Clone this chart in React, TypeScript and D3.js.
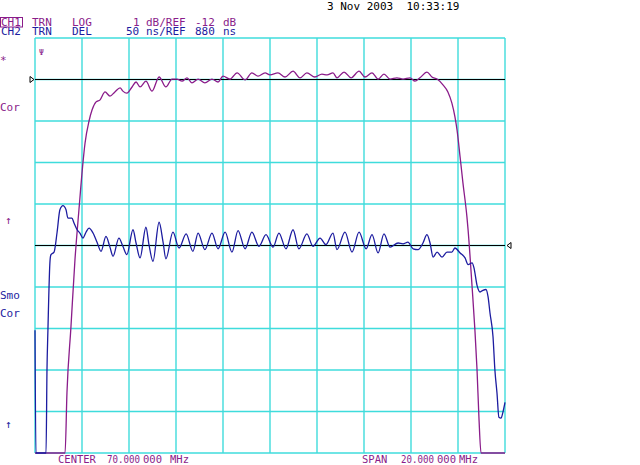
import React, { useEffect, useRef } from 'react';
import * as d3 from 'd3';

// sweep: CENTER 70 MHz, SPAN 20 MHz
const startMHz = 60;
const stopMHz = 80;

// CH1 transmission magnitude, 1 dB/div, ref -12 dB at division 9
const ch1Ref = -12;
const ch1PerDiv = 1;
const ch1RefPos = 9;
const ch1Trace: [number, number][] = [
  [60.0, -22], [61.23, -22], [61.28, -21.0], [61.36, -19.55], [61.53, -17.96], [61.7, -16.35],
  [61.87, -15.14], [62.04, -14.01], [62.13, -13.53], [62.3, -13.0], [62.43, -12.73], [62.6, -12.54],
  [62.77, -12.49], [62.98, -12.3], [63.19, -12.4], [63.4, -12.3], [63.62, -12.2], [63.74, -12.28],
  [63.91, -12.33], [64.13, -12.18], [64.3, -12.06], [64.47, -12.18], [64.72, -12.04], [64.98, -12.28],
  [65.28, -11.94], [65.57, -12.18], [65.83, -11.99], [66.04, -11.99], [66.26, -12.04], [66.47, -11.96],
  [66.68, -12.08], [66.94, -11.99], [67.23, -12.08], [67.53, -11.99], [67.79, -12.06], [68.0, -11.92],
  [68.3, -11.99], [68.6, -11.84], [68.94, -12.01], [69.23, -11.84], [69.49, -11.92], [69.79, -11.84],
  [70.0, -11.89], [70.34, -11.84], [70.64, -11.94], [70.98, -11.8], [71.28, -11.96], [71.57, -11.84],
  [71.91, -11.94], [72.21, -11.87], [72.43, -11.89], [72.68, -11.84], [72.85, -11.96], [73.15, -11.82],
  [73.45, -11.96], [73.79, -11.8], [74.04, -11.94], [74.34, -11.84], [74.6, -11.99], [74.85, -11.87],
  [75.11, -11.99], [75.4, -11.96], [75.66, -11.99], [75.96, -11.96], [76.17, -12.04], [76.38, -11.96],
  [76.68, -11.82], [76.89, -11.94], [77.11, -11.99], [77.36, -12.13], [77.57, -12.3], [77.74, -12.57],
  [77.87, -12.9], [77.96, -13.22], [78.09, -13.87], [78.21, -14.49], [78.38, -15.31], [78.43, -15.63],
  [78.6, -17.0], [78.72, -18.04], [78.81, -19.0], [78.89, -20.13], [78.98, -21.0], [79.02, -22],
  [80.0, -22],
];

// CH2 group delay, 50 ns/div, ref 880 ns at division 5
const ch2Ref = 880;
const ch2PerDiv = 50;
const ch2RefPos = 5;
const ch2Trace: [number, number][] = [
  [60.0, 778], [60.04, 600], [60.47, 600], [60.51, 730], [60.55, 778], [60.64, 862], [60.68, 869],
  [60.81, 872], [60.94, 896], [61.06, 923], [61.19, 928], [61.32, 923], [61.4, 913], [61.57, 913],
  [61.66, 907], [61.79, 899], [61.91, 895], [62.04, 889], [62.17, 896], [62.3, 901], [62.47, 895],
  [62.64, 884], [62.81, 873], [63.02, 891], [63.19, 878], [63.32, 867], [63.57, 889], [63.74, 879],
  [63.91, 869], [64.17, 899], [64.3, 883], [64.47, 865], [64.72, 902], [64.85, 881], [65.02, 861],
  [65.28, 908], [65.45, 884], [65.57, 864], [65.87, 896], [66.13, 877], [66.43, 894], [66.72, 873],
  [66.94, 895], [67.23, 875], [67.53, 895], [67.79, 876], [68.09, 896], [68.38, 872], [68.64, 898],
  [68.94, 876], [69.23, 896], [69.53, 879], [69.83, 893], [70.13, 878], [70.38, 895], [70.68, 876],
  [70.98, 899], [71.23, 876], [71.57, 894], [71.83, 879], [72.13, 889], [72.38, 881], [72.68, 895],
  [72.85, 875], [73.19, 896], [73.49, 872], [73.79, 896], [74.09, 876], [74.34, 893], [74.6, 871],
  [74.85, 894], [75.11, 878], [75.45, 883], [75.66, 882], [75.87, 884], [76.09, 876], [76.3, 875],
  [76.51, 883], [76.68, 893], [76.81, 883], [76.94, 866], [77.11, 872], [77.32, 866], [77.53, 872],
  [77.74, 872], [77.87, 877], [78.09, 871], [78.3, 865], [78.43, 857], [78.6, 859], [78.68, 853],
  [78.81, 832], [78.94, 824], [79.06, 826], [79.19, 827], [79.28, 818], [79.36, 799], [79.49, 770],
  [79.57, 730], [79.66, 702], [79.74, 673], [79.83, 672], [79.91, 679], [80.0, 691],
];

const ch1Header = [
  { text: 'CH1', x: 1 }, { text: 'TRN', x: 32 }, { text: 'LOG', x: 72 },
  { text: '1', x: 133 }, { text: 'dB/REF', x: 146 }, { text: '-12', x: 195 }, { text: 'dB', x: 223 },
];
const ch2Header = [
  { text: 'CH2', x: 1 }, { text: 'TRN', x: 32 }, { text: 'DEL', x: 72 },
  { text: '50', x: 126 }, { text: 'ns/REF', x: 146 }, { text: '880', x: 195 }, { text: 'ns', x: 223 },
];
const dateLabel = '3 Nov 2003  10:33:19';
const centerLabel = [
  { text: 'CENTER', x: 58 }, { text: '70.000', x: 107 }, { text: '000', x: 143 }, { text: 'MHz', x: 170 },
];
const spanLabel = [
  { text: 'SPAN', x: 362 }, { text: '20.000', x: 401 }, { text: '000', x: 437 }, { text: 'MHz', x: 459 },
];
const ch1Notes = [
  { text: '*', y: 64 }, { text: 'Cor', y: 111 }, { text: '↑', y: 224 },
];
const ch2Notes = [
  { text: 'Smo', y: 299 }, { text: 'Cor', y: 317 }, { text: '↑', y: 428 },
];

const W = 640;
const H = 465;
const PURPLE = '#8a1c8a';
const BLUE = '#1c1ca0';
const GRID = '#3fdcdc';
const FONT = 'DejaVu Sans Mono, monospace';

const App: React.FC = () => {
  const ref = useRef<SVGSVGElement>(null);

  useEffect(() => {
    if (!ref.current) return;
    const svg = d3.select(ref.current);
    svg.selectAll('*').remove();

    const left = 35, right = 505, top = 38, bottom = 453;
    const x = d3.scaleLinear().domain([startMHz, stopMHz]).range([left, right]);
    const y1 = d3
      .scaleLinear()
      .domain([ch1Ref - ch1RefPos * ch1PerDiv, ch1Ref + (10 - ch1RefPos) * ch1PerDiv])
      .range([bottom, top])
      .clamp(true);
    const y2 = d3
      .scaleLinear()
      .domain([ch2Ref - ch2RefPos * ch2PerDiv, ch2Ref + (10 - ch2RefPos) * ch2PerDiv])
      .range([bottom, top])
      .clamp(true);

    svg.append('rect').attr('width', W).attr('height', H).attr('fill', '#fff');

    // graticule, 10 x 10 divisions
    const grid = svg.append('g').attr('stroke', GRID).attr('stroke-width', 1.4).attr('fill', 'none');
    d3.range(11).forEach((i) => {
      const gx = x(startMHz + (i * (stopMHz - startMHz)) / 10);
      grid.append('line').attr('x1', gx).attr('x2', gx).attr('y1', top).attr('y2', bottom);
      const gy = bottom + (i * (top - bottom)) / 10;
      grid.append('line').attr('x1', left).attr('x2', right).attr('y1', gy).attr('y2', gy);
    });

    // reference lines and markers
    const r1 = y1(ch1Ref);
    const r2 = y2(ch2Ref);
    svg.append('line').attr('x1', left).attr('x2', right).attr('y1', r1).attr('y2', r1)
      .attr('stroke', '#000').attr('stroke-width', 1.2);
    svg.append('line').attr('x1', left).attr('x2', right).attr('y1', r2).attr('y2', r2)
      .attr('stroke', '#000').attr('stroke-width', 1.2);
    svg.append('path')
      .attr('d', `M${left - 5},${r1 - 3}L${left - 1},${r1}L${left - 5},${r1 + 3}Z`)
      .attr('fill', '#fff').attr('stroke', '#000').attr('stroke-width', 1);
    svg.append('path')
      .attr('d', `M${right + 6},${r2 - 3}L${right + 2},${r2}L${right + 6},${r2 + 3}Z`)
      .attr('fill', '#fff').attr('stroke', '#000').attr('stroke-width', 1);

    // traces
    const line1 = d3.line<[number, number]>().x((d) => x(d[0])).y((d) => y1(d[1])).curve(d3.curveMonotoneX);
    const line2 = d3.line<[number, number]>().x((d) => x(d[0])).y((d) => y2(d[1])).curve(d3.curveMonotoneX);
    svg.append('path').attr('d', line1(ch1Trace)).attr('fill', 'none')
      .attr('stroke', PURPLE).attr('stroke-width', 1.3);
    svg.append('path').attr('d', line2(ch2Trace)).attr('fill', 'none')
      .attr('stroke', BLUE).attr('stroke-width', 1.3);

    // text
    const txt = svg.append('g').attr('font-family', FONT).attr('font-size', 11);
    ch1Header.forEach((d) => {
      txt.append('text').attr('x', d.x).attr('y', 26).attr('fill', PURPLE).text(d.text);
    });
    ch2Header.forEach((d) => {
      txt.append('text').attr('x', d.x).attr('y', 35).attr('fill', BLUE).text(d.text);
    });
    svg.append('rect').attr('x', 0.5).attr('y', 17.5).attr('width', 22).attr('height', 9.5)
      .attr('fill', 'none').attr('stroke', PURPLE).attr('stroke-width', 1);
    txt.append('text').attr('x', 327).attr('y', 10).attr('fill', '#000')
      .attr('xml:space', 'preserve').text(dateLabel);
    [...centerLabel, ...spanLabel].forEach((d) => {
      const t = txt.append('text').attr('x', d.x).attr('y', 463).attr('font-size', 10.5)
        .attr('fill', PURPLE).text(d.text);
      if (d.text.includes('.')) t.attr('textLength', 33).attr('lengthAdjust', 'spacingAndGlyphs');
    });
    ch1Notes.forEach((d) => {
      txt.append('text').attr('x', d.text === '↑' ? 5 : 0).attr('y', d.y).attr('fill', PURPLE).text(d.text);
    });
    ch2Notes.forEach((d) => {
      txt.append('text').attr('x', d.text === '↑' ? 5 : 0).attr('y', d.y).attr('fill', BLUE).text(d.text);
    });
    // active marker symbol
    txt.append('text').attr('x', 39).attr('y', 55).attr('font-size', 8).attr('fill', PURPLE).text('Ψ');

    return () => {
      svg.selectAll('*').remove();
    };
  }, []);

  return (
    <svg
      ref={ref}
      width={W}
      height={H}
      style={{ position: 'absolute', left: 0, top: 0, display: 'block' }}
    ></svg>
  );
};

export default App;
